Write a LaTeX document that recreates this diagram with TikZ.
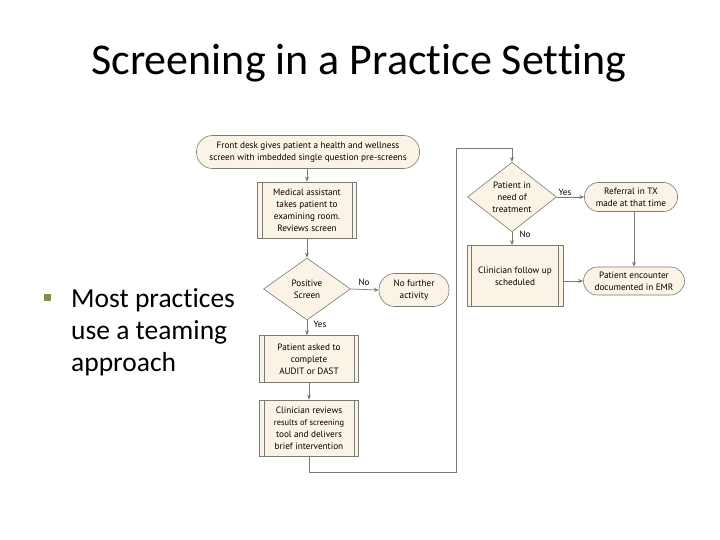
\documentclass[tikz,border=0pt]{standalone}
\usepackage{fontspec}
\setmainfont{Carlito}[Ligatures=NoCommon]
\newfontfamily\flowfont{PT Sans}
\usetikzlibrary{shapes.geometric,arrows.meta}
\definecolor{cream}{HTML}{FBF4E6}
\definecolor{edgegray}{HTML}{7A7A74}
\definecolor{bulletgreen}{HTML}{7F8F4F}
\newcommand\procsides[1]{\draw[edgegray,line width=0.6pt] ([xshift=5pt]#1.north west) -- ([xshift=5pt]#1.south west) ([xshift=-5pt]#1.north east) -- ([xshift=-5pt]#1.south east);}
\begin{document}
\begin{tikzpicture}[x=1pt,y=-1pt,
  base/.style={draw=edgegray, fill=cream, line width=0.6pt, font=\flowfont\fontsize{9.2}{12}\selectfont, align=center, inner sep=0pt, text=black},
  term/.style={base, rectangle},
  procbox/.style={base, rectangle, minimum width=99pt},
  decision/.style={base, diamond},
  conn/.style={draw=edgegray, line width=0.7pt, -{Stealth[length=5pt,width=4pt]}},
  plain/.style={draw=edgegray, line width=0.7pt},
  lbl/.style={font=\flowfont\fontsize{9}{10}\selectfont, text=black, inner sep=0pt}]
\useasboundingbox (0,0) rectangle (720,540);
% title
\node[anchor=base, font=\fontsize{44}{52}\selectfont, inner sep=0pt] (title) at (359,75) {Screening in a Practice Setting};
% bullet
\node[fill=bulletgreen, minimum size=7pt, inner sep=0pt] (bul) at (47,297) {};
\node[anchor=base west, font=\fontsize{27.5}{32}\selectfont, inner sep=0pt] (bt1) at (71,307) {Most practices};
\node[anchor=base west, font=\fontsize{27.5}{32}\selectfont, inner sep=0pt] (bt2) at (71,339) {use a teaming};
\node[anchor=base west, font=\fontsize{27.5}{32}\selectfont, inner sep=0pt] (bt3) at (71,371) {approach};
% left column
\node[term, minimum width=223pt, minimum height=33pt, rounded corners=16pt] (front) at (308,152) {Front desk gives patient a health and wellness\\screen with imbedded single question pre-screens};
\node[procbox, minimum height=56pt] (ma) at (307,210) {Medical assistant\\takes patient to\\examining room.\\Reviews screen};
\node[decision, minimum width=87pt, minimum height=62pt] (pos) at (307,289) {Positive\\Screen};
\node[term, minimum width=70pt, minimum height=33pt, rounded corners=16pt] (nofur) at (414,290) {No further\\activity};
\node[procbox, minimum height=47pt] (ask) at (309,359) {Patient asked to\\complete\\AUDIT or DAST};
\node[procbox, minimum height=56pt] (rev) at (309,428) {Clinician reviews\\{\fontsize{8.4}{12}\selectfont results of screening}\\tool and delivers\\brief intervention};
% right column
\node[decision, minimum width=89pt, minimum height=61pt] (need) at (512,197) {Patient in\\need of\\treatment};
\node[term, minimum width=93pt, minimum height=29pt, rounded corners=14pt] (ref) at (631,197) {Referral in TX\\made at that time};
\node[procbox, minimum width=96pt, minimum height=61pt] (fol) at (515,276) {Clinician follow up\\scheduled};
\node[term, minimum width=101pt, minimum height=28pt, rounded corners=14pt] (enc) at (634,281) {Patient encounter\\documented in EMR};
\procsides{ma}
\procsides{ask}
\procsides{rev}
\procsides{fol}
% corner points of the long connector
\coordinate (c1) at (309,472);
\coordinate (c2) at (456,472);
\coordinate (c3) at (456,148);
\coordinate (c4) at (512,148);
% connectors
\draw[conn] (front.south -| ma.north) -- (ma.north);
\draw[conn] (ma.south) -- (pos.north);
\draw[conn] (pos.east) -- (nofur.west);
\draw[conn] (pos.south) -- (pos.south |- ask.north);
\draw[conn] (ask.south -| rev.north) -- (rev.north);
\draw[plain] (rev.south) -- (c1) -- (c2) -- (c3) -- (c4);
\draw[conn] (c4) -- (need.north);
\draw[conn] (need.east) -- (ref.west);
\draw[conn] (need.south) -- (need.south |- fol.north);
\draw[conn] (fol.east |- enc.west) -- (enc.west);
\draw[conn] (ref.south -| enc.north) -- (enc.north);
% labels
\node[lbl] (lno1) at (364,282) {No};
\node[lbl] (lyes1) at (320,324) {Yes};
\node[lbl] (lyes2) at (565,192) {Yes};
\node[lbl] (lno2) at (525,234) {No};
\end{tikzpicture}
\end{document}
